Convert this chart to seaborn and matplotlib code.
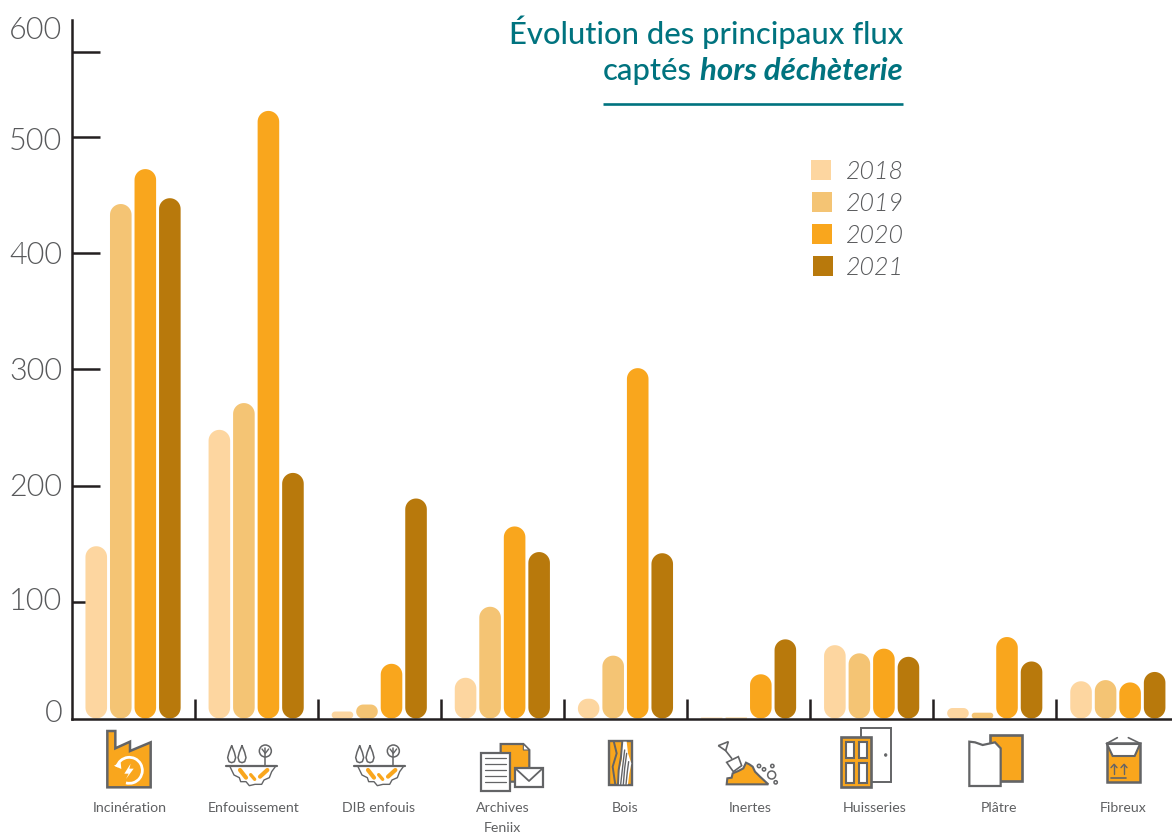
import matplotlib
matplotlib.use("Agg")
import matplotlib.pyplot as plt
import numpy as np
import pandas as pd
import seaborn as sns
from matplotlib import font_manager as fm
from matplotlib.patches import PathPatch, Polygon, Rectangle, Circle, Arc
from matplotlib.path import Path
from matplotlib.transforms import Affine2D

categories = ["Incinération", "Enfouissement", "DIB enfouis", "Archives\nFeniix", "Bois",
              "Inertes", "Huisseries", "Plâtre", "Fibreux"]
years = ["2018", "2019", "2020", "2021"]
v2018 = [148, 248, 6, 35, 17, 0.8, 63, 9, 32]
v2019 = [442, 271, 12, 96, 54, 0.8, 56, 5, 33]
v2020 = [472, 522, 47, 165, 301, 38, 60, 70, 31]
v2021 = [447, 211, 189, 143, 142, 68, 53, 49, 40]
y_labels = [0, 100, 200, 300, 400, 500, 600]
colors = ["#FDD6A0", "#F4C474", "#F9A61D", "#B8790C"]
TEAL = "#00737F"
GREY = "#58595B"
DARK = "#231F20"
FONT = "Lato"

W, H = 1172, 835
sns.set_theme(style="white")
plt.rcParams["font.family"] = [FONT, "DejaVu Sans"]


def lato(stem, **kw):
    """Lato face chosen by file name, as weights are hard to reach by number."""
    for f in fm.fontManager.ttflist:
        if f.fname.endswith(stem + ".ttf"):
            return fm.FontProperties(fname=f.fname, **kw)
    return fm.FontProperties(family=FONT, **kw)


fig = plt.figure(figsize=(W / 100, H / 100), dpi=100)
fig.patch.set_facecolor("white")

PX_X = 123.1   # pixels per category
PX_Y = 1.164   # pixels per unit
AX_L, AX_B, AX_T = 71.5, 718.5, 20.0
ax = fig.add_axes([AX_L / W, 1 - AX_B / H, (W - AX_L) / W, (AX_B - AX_T) / H])

df = pd.DataFrame({
    "cat": categories * 4,
    "year": sum([[y] * len(categories) for y in years], []),
    "val": v2018 + v2019 + v2020 + v2021,
})
sns.barplot(data=df, x="cat", y="val", hue="year", palette=colors, saturation=1,
            width=0.797, gap=0.12, legend=False, ax=ax, zorder=2)
ax.set_xlim(-0.5, -0.5 + (W - AX_L) / PX_X)
ax.set_ylim(0, (AX_B - AX_T) / PX_Y)
ax.set_xlabel("")
ax.set_ylabel("")


def pill(x, w, h):
    """Outline of the bar (x, 0, w, h) with circular corners, in data units."""
    r_px = min(w * PX_X, h * PX_Y) / 2
    rx, ry = r_px / PX_X, r_px / PX_Y
    pts = []
    for cx, cy, a0 in [(x + w - rx, h - ry, 0), (x + rx, h - ry, np.pi / 2),
                       (x + rx, ry, np.pi), (x + w - rx, ry, 1.5 * np.pi)]:
        t = np.linspace(a0, a0 + np.pi / 2, 12)
        pts.append(np.c_[cx + rx * np.cos(t), cy + ry * np.sin(t)])
    pts = np.vstack(pts)
    return Path(np.r_[pts, pts[:1]], closed=True)


for cont, col in zip(ax.containers, colors):
    for bar in cont:
        ax.add_patch(PathPatch(pill(bar.get_x(), bar.get_width(), bar.get_height()),
                               fc=col, ec="none", zorder=2.1))
        bar.set_visible(False)

for s in ["top", "right"]:
    ax.spines[s].set_visible(False)
for s in ["left", "bottom"]:
    ax.spines[s].set_color(DARK)
    ax.spines[s].set_linewidth(1.8)
    ax.spines[s].set_zorder(3)

# y axis
ax.set_yticks(y_labels)
ax.set_yticklabels([str(v) for v in y_labels])
ax.set_yticks([(AX_B - 52) / PX_Y], minor=True)
ax.tick_params(axis="y", which="both", left=True, direction="in", length=20, width=1.8, color=DARK, zorder=1)
ax.tick_params(axis="y", which="major", labelcolor=GREY, pad=3)
label_dy = {0: 8, 100: 4, 200: 1, 300: 1, 400: 0, 500: -2, 600: -7}
num_fp = lato("Lato-Light", size=22)
for v, tick in zip(y_labels, ax.yaxis.get_major_ticks()):
    if v in (0, 600):
        tick.tick1line.set_visible(False)
    tick.label1.set_fontproperties(num_fp)
    tick.label1.set_transform(tick.label1.get_transform() + Affine2D().translate(-5, label_dy[v]))

# x axis: boundaries as marks, categories as labels
ax.set_xticks(range(len(categories)))
ax.set_xticklabels(categories, fontsize=10.2, color="#5F6062", linespacing=1.85, va="top")
ax.set_xticks([i + 0.5 for i in range(len(categories) - 1)], minor=True)
ax.tick_params(axis="x", which="major", bottom=False, length=0, pad=0)
ax.tick_params(axis="x", which="minor", bottom=True, direction="in", length=14.5, width=1.8, color=DARK, zorder=1)
x_dx = [-3, -3, -1, 0, 0, 2, 3, 4, 5]
x_dy = [-84, -83, -83, -83, -83, -83, -83, -83, -83]
for lab, dx, dy in zip(ax.get_xticklabels(), x_dx, x_dy):
    lab.set_transform(lab.get_transform() + Affine2D().translate(dx, dy))

# overlay in pixel coordinates: title, legend, icons
ov = fig.add_axes([0, 0, 1, 1], zorder=5)
ov.set_xlim(0, W)
ov.set_ylim(H, 0)
ov.axis("off")
ov.patch.set_alpha(0)

title_fp = lato("Lato-Medium", size=22.3)
ov.text(903, 44, "Évolution des principaux flux", ha="right", va="baseline", fontproperties=title_fp, color=TEAL)
ov.text(603, 80, "captés", ha="left", va="baseline", fontproperties=title_fp, color=TEAL)
ov.text(903, 80, "hors déchèterie", ha="right", va="baseline", fontsize=22.5, color=TEAL,
        fontweight="bold", style="italic")
ov.plot([603, 903], [104, 104], color=TEAL, lw=1.9, solid_capstyle="butt")

swatch_x = [811, 812, 812, 813]
leg_fp = lato("Lato-LightItalic", size=18)
for i, (yr, col) in enumerate(zip(years, colors)):
    y0 = 160 + 32 * i
    ov.add_patch(Rectangle((swatch_x[i], y0), 20, 20, fc=col, ec="none"))
    ov.text(904, y0 + 19, yr, ha="right", va="baseline", fontproperties=leg_fp, color=GREY)

ICON = "#636466"
OR = "#F9A61D"


def Z(o, pts):
    return [(o[0] + p[0] / 3, o[1] + p[1] / 3) for p in pts]


def poly(o, pts, fc="none", ec=ICON, lw=1.5, z=6):
    ov.add_patch(Polygon(Z(o, pts), closed=True, fc=fc, ec=ec, lw=lw, zorder=z, joinstyle="miter"))


def line(o, pts, c=ICON, lw=1.2, z=7):
    q = Z(o, pts)
    ov.plot([p[0] for p in q], [p[1] for p in q], color=c, lw=lw, zorder=z, solid_capstyle="round")


def circ(o, c, r, fc="white", ec=ICON, lw=1.2, z=7):
    q = Z(o, [c])[0]
    ov.add_patch(Circle(q, r / 3, fc=fc, ec=ec, lw=lw, zorder=z))


# factory
o = (90, 725)
poly(o, [(52, 18), (76, 18), (76, 70), (120, 50), (120, 78), (182, 52), (182, 187), (52, 187)], fc=OR, lw=1.8)
q = Z(o, [(118, 136)])[0]
ov.add_patch(Arc(q, 26, 26, theta1=-165, theta2=105, ec="white", lw=2.0, zorder=7))
poly(o, [(122, 116), (103, 146), (116, 146), (108, 162), (131, 131), (118, 131)], fc="white", ec="none", lw=0, z=8)
poly(o, [(72, 122), (92, 112), (94, 132)], fc="white", ec="none", lw=0, z=8)


# landfill (twice)
def landfill(o):
    for cx in (425, 456):
        line(o, [(cx, 62), (cx - 8, 82), (cx - 12, 98), (cx - 8, 110), (cx, 113), (cx + 8, 110),
                 (cx + 12, 98), (cx + 8, 82), (cx, 62)], lw=1.1)
    circ(o, (526, 78), 18, lw=1.1)
    line(o, [(526, 70), (526, 122)], lw=1.1)
    line(o, [(516, 72), (526, 85), (536, 72)], lw=1.0)
    line(o, [(408, 122), (562, 122)], lw=1.6)
    line(o, [(420, 125), (432, 150), (448, 158), (452, 170), (468, 170), (478, 182), (495, 178),
             (515, 178), (522, 165), (538, 158), (545, 140), (556, 125)], lw=1.0)
    line(o, [(450, 135), (468, 158)], c=OR, lw=3)
    line(o, [(482, 149), (494, 163)], c=OR, lw=2.4)
    line(o, [(510, 155), (532, 135)], c=OR, lw=3)


landfill((90, 725))
landfill((218, 725))

# archives
o = (470, 730)
poly(o, [(92, 42), (160, 42), (178, 60), (178, 155), (92, 155)], fc=OR, lw=1.6)
poly(o, [(160, 42), (178, 60), (160, 60)], fc="white", lw=0.8)
poly(o, [(32, 68), (120, 68), (120, 183), (32, 183)], fc="white", lw=1.6, z=6.2)
for yy in (85, 102, 120, 138, 156):
    line(o, [(45, yy), (107, yy)], lw=0.9)
poly(o, [(136, 115), (218, 115), (218, 170), (136, 170)], fc="white", lw=1.6, z=7)
line(o, [(136, 115), (177, 153), (218, 115)], lw=1.3, z=7.5)

# wood
poly(o, [(416, 33), (486, 33), (486, 165), (416, 165)], fc=OR, lw=1.7)
poly(o, [(456, 35), (470, 35), (474, 70), (484, 100), (478, 130), (474, 163), (444, 163), (448, 120), (456, 85)],
     fc="white", ec="none", lw=0, z=6.5)
line(o, [(431, 33), (440, 70), (428, 110), (436, 165)], lw=1.4)
line(o, [(457, 33), (453, 80), (446, 120), (444, 165)], lw=1.4)
line(o, [(464, 60), (458, 110), (452, 163)], lw=1.0)
line(o, [(470, 70), (464, 115), (460, 163)], lw=1.0)
line(o, [(476, 95), (472, 125), (468, 163)], lw=1.0)

# rubble
o = (710, 725)
poly(o, [(50, 178), (52, 160), (65, 158), (68, 145), (85, 138), (100, 130), (108, 113), (118, 118),
         (128, 125), (135, 140), (150, 155), (175, 178)], fc=OR, lw=1.5)
poly(o, [(25, 62), (55, 50), (47, 77)], fc="white", lw=1.2)
line(o, [(47, 77), (65, 100)], lw=1.2)
poly(o, [(50, 112), (85, 95), (95, 122), (70, 140)], fc="white", lw=1.2, z=5.9)
for c, r in [((147, 123), 5), ((162, 133), 5), ((187, 123), 5), ((185, 150), 12), ((197, 172), 5)]:
    circ(o, c, r, lw=1.1)

# doors
poly(o, [(452, 9), (542, 9), (542, 172), (452, 172)], fc="white", lw=1.4)
poly(o, [(394, 37), (482, 37), (482, 186), (394, 186)], fc=OR, lw=1.9, z=6.2)
for a, b, c, d in [(408, 50, 432, 100), (446, 50, 470, 100), (408, 113, 432, 175), (446, 113, 470, 175)]:
    poly(o, [(a, b), (c, b), (c, d), (a, d)], fc="white", lw=1.5, z=6.5)
circ(o, (527, 90), 4, fc=ICON, lw=0.5)

# plaster
o = (960, 725)
poly(o, [(90, 30), (185, 30), (185, 167), (90, 167)], fc=OR, lw=1.9)
poly(o, [(28, 50), (45, 52), (68, 60), (105, 52), (122, 70), (122, 183), (28, 183)], fc="white", lw=1.6, z=6.2)

# big bag
poly(o, [(441, 55), (540, 55), (540, 172), (441, 172)], fc=OR, lw=1.8)
poly(o, [(441, 57), (540, 57), (524, 93), (458, 93)], fc="white", lw=1.5, z=6.3)
line(o, [(441, 55), (472, 38)], lw=1.2)
line(o, [(540, 55), (505, 38)], lw=1.2)
for xx in (462, 492):
    line(o, [(xx, 148), (xx, 118)], lw=1.0)
    line(o, [(xx - 9, 128), (xx, 118), (xx + 9, 128)], lw=1.0)
line(o, [(453, 160), (498, 160)], lw=1.2)

fig.savefig("out.png", dpi=100, facecolor="white")
